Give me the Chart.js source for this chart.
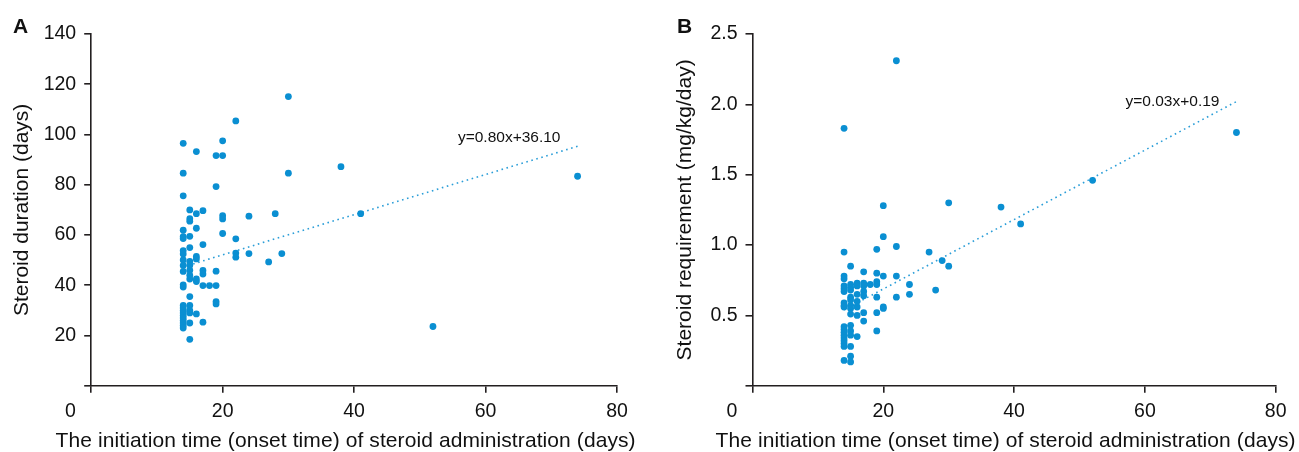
<!DOCTYPE html>
<html>
<head>
<meta charset="utf-8">
<script src="https://cdn.jsdelivr.net/npm/chart.js@4.4.0/dist/chart.umd.min.js"></script>
<style>
html,body{margin:0;padding:0;background:#fff;}
#wrap{position:relative;width:1299px;height:452px;overflow:hidden;background:#fff;}
canvas{position:absolute;top:0;}
#cA{left:0;}
#cB{left:650px;}
</style>
</head>
<body>
<div id="wrap">
<canvas id="cA" width="650" height="452"></canvas>
<canvas id="cB" width="649" height="452"></canvas>
</div>
<script>
// ---------- data ----------
const xTickValues = [0, 20, 40, 60, 80];
const durationTickValues = [0, 20, 40, 60, 80, 100, 120, 140];
const requirementTickValues = [0, 0.5, 1.0, 1.5, 2.0, 2.5];

const xAxisTitle = 'The initiation time (onset time) of steroid administration (days)';
const yTitleA = 'Steroid duration (days)';
const yTitleB = 'Steroid requirement (mg/kg/day)';

// Panel A: onset day vs steroid duration (days)
const onsetA = [
  14,14,14,14,14,14,14,14,14,14,14,14,14,14,14,14,14,14,14,14,14,14,14,
  15,15,15,15,15,15,15,15,15,15,15,15,15,15,15,15,
  16,16,16,16,16,16,16,16,
  17,17,17,17,17,17,
  18,
  19,19,19,19,19,19,
  20,20,20,20,20,
  22,22,22,22,
  24,24,27,28,29,30,30,38,41,52,74
];
const durationA = [
  96.5,84.6,75.6,61.9,59.4,58.6,53.8,52.5,50.1,47.9,45.5,40.2,39.3,32,31,30,29,28,27,26,25,24,23,
  70,66.5,65.5,59.5,55,49.5,48,46,44,42.5,35.5,32,30,29,25,18.5,
  93.2,68.5,62.7,51.5,50.5,42.5,41.5,28.6,
  69.7,56.2,45.9,44.5,39.9,25.3,
  39.9,
  91.6,79.3,45.6,39.9,33.5,32.6,
  97.5,91.6,67.7,66.4,60.6,
  105.4,58.5,52.8,51.2,
  67.5,52.6,49.3,68.5,52.6,115.1,84.6,87.2,68.5,23.6,83.4
];
const trendAX = [14, 74];
const trendAY = [47.3, 95.3];
const equationA = 'y=0.80x+36.10';

// Panel B: onset day vs steroid requirement (mg/kg/day)
const onsetB = [
  14,14,14,14,14,14,14,14,14,14,14,14,14,14,14,14,14,14,14,
  15,15,15,15,15,15,15,15,15,15,15,15,15,15,15,
  16,16,16,16,16,16,16,
  17,17,17,17,17,17,17,
  18,
  19,19,19,19,19,19,19,
  20,20,20,20,20,
  22,22,22,22,
  24,24,27,28,29,30,30,38,41,52,74
];
const requirementB = [
  1.83,0.95,0.78,0.76,0.71,0.69,0.67,0.59,0.57,0.56,0.42,0.40,0.38,0.36,0.34,0.32,0.30,0.28,0.18,
  0.85,0.72,0.70,0.68,0.63,0.61,0.57,0.55,0.51,0.43,0.39,0.36,0.28,0.21,0.17,
  0.73,0.71,0.65,0.60,0.56,0.50,0.35,
  0.81,0.73,0.71,0.67,0.64,0.52,0.46,
  0.72,
  0.97,0.80,0.74,0.72,0.63,0.52,0.39,
  1.28,1.06,0.78,0.56,0.55,
  2.31,0.99,0.78,0.63,
  0.72,0.65,0.95,0.68,0.89,1.30,0.85,1.27,1.15,1.46,1.80
];
const trendBX = [14, 74];
const trendBY = [0.54, 2.02];
const equationB = 'y=0.03x+0.19';

// ---------- styles ----------
const FONT = '"Liberation Sans", Arial, Helvetica, sans-serif';
const DOT = '#0a8fd2';
const TREND = '#2b9ed8';
const AXIS = '#231f20';
const TEXT = '#111111';
const TICK_SIZE = 19.5;
const TITLE_SIZE = 21;
const TICK_PAD = 7;
const X_TITLE_WIDTH = 580;

const textPlugin = {
  id: 'panelText',
  afterDraw(chart, args, opts) {
    const ctx = chart.ctx;
    const xs = chart.scales.x, ys = chart.scales.y;
    const ca = chart.chartArea;
    ctx.save();
    ctx.fillStyle = TEXT;
    // panel letter
    ctx.font = 'bold 21px ' + FONT;
    ctx.textAlign = 'left';
    ctx.textBaseline = 'alphabetic';
    ctx.fillText(opts.letter, opts.letterX, 33);
    // origin "0" label
    ctx.font = TICK_SIZE + 'px ' + FONT;
    ctx.textAlign = 'center';
    ctx.textBaseline = 'middle';
    const lh = TICK_SIZE * 1.2;
    ctx.fillText('0', xs.getPixelForValue(0) - 20.7, xs.top + 7 + TICK_PAD + lh / 2);
    // regression equation
    ctx.font = '15.5px ' + FONT;
    ctx.textAlign = 'right';
    ctx.textBaseline = 'alphabetic';
    ctx.fillText(opts.equation, xs.getPixelForValue(opts.eqX), ys.getPixelForValue(opts.eqY));
    // x axis title (slightly letter-spaced as in the source figure)
    ctx.font = TITLE_SIZE + 'px ' + FONT;
    ctx.textAlign = 'left';
    const natural = ctx.measureText(xAxisTitle).width;
    const n = xAxisTitle.length;
    const ls = (X_TITLE_WIDTH - natural) / (n - 1);
    if ('letterSpacing' in ctx) ctx.letterSpacing = ls.toFixed(2) + 'px';
    const cx = (ca.left + ca.right) / 2 - 8.5;
    const realW = ('letterSpacing' in ctx) ? X_TITLE_WIDTH : natural;
    ctx.fillText(xAxisTitle, cx - realW / 2, 447);
    ctx.restore();
  }
};

function makeChart(id, cfg) {
  const points = cfg.xs.map((x, i) => ({ x: x, y: cfg.ys[i] }));
  const trend = cfg.tx.map((x, i) => ({ x: x, y: cfg.ty[i] }));
  return new Chart(document.getElementById(id), {
    type: 'scatter',
    data: {
      datasets: [
        { data: points, backgroundColor: DOT, borderColor: DOT, borderWidth: 0,
          pointRadius: 3.4, pointHoverRadius: 3.4, order: 1 },
        { type: 'line', data: trend, borderColor: TREND, borderWidth: 1.6,
          borderDash: [1.6, 3.6], pointRadius: 0, fill: false, showLine: true, order: 2 }
      ]
    },
    options: {
      responsive: false,
      animation: false,
      devicePixelRatio: 1,
      events: [],
      layout: { padding: { top: 34, right: cfg.padRight, left: 0, bottom: 0 } },
      plugins: {
        legend: { display: false },
        tooltip: { enabled: false },
        panelText: { letter: cfg.letter, letterX: cfg.letterX, equation: cfg.equation, eqX: cfg.eqX, eqY: cfg.eqY }
      },
      scales: {
        x: {
          type: 'linear', min: 0, max: 80,
          afterBuildTicks: s => { s.ticks = xTickValues.map(v => ({ value: v })); },
          afterFit: s => { s.height = 66.2; },
          grid: { display: true, drawOnChartArea: false, drawTicks: true, tickLength: 7, color: AXIS, lineWidth: 1.6 },
          border: { display: true, color: AXIS, width: 1.6 },
          ticks: { color: TEXT, font: { family: FONT, size: TICK_SIZE }, padding: TICK_PAD, maxRotation: 0, autoSkip: false,
                   callback: v => (v === 0 ? '' : String(v)) },
          title: { display: false, text: xAxisTitle }
        },
        y: {
          type: 'linear', min: cfg.yTicks[0], max: cfg.yTicks[cfg.yTicks.length - 1],
          afterBuildTicks: s => { s.ticks = cfg.yTicks.map(v => ({ value: v })); },
          afterFit: s => { s.width = cfg.yWidth; },
          grid: { display: true, drawOnChartArea: false, drawTicks: true, tickLength: 7, color: AXIS, lineWidth: 1.6 },
          border: { display: true, color: AXIS, width: 1.6 },
          ticks: { color: TEXT, font: { family: FONT, size: TICK_SIZE }, padding: 8, autoSkip: false,
                   callback: cfg.tickFormat },
          title: { display: true, text: cfg.yTitle, color: TEXT, font: { family: FONT, size: TITLE_SIZE }, padding: { top: cfg.yTitlePad, bottom: 0 } }
        }
      }
    },
    plugins: [textPlugin]
  });
}

makeChart('cA', {
  xs: onsetA, ys: durationA, tx: trendAX, ty: trendAY,
  yTicks: durationTickValues, yTitle: yTitleA, yWidth: 91.2, padRight: 33, yTitlePad: 9.4,
  tickFormat: v => (v === 0 ? '' : String(v)),
  letter: 'A', letterX: 13, equation: equationA, eqX: 71.4, eqY: 97
});
makeChart('cB', {
  xs: onsetB, ys: requirementB, tx: trendBX, ty: trendBY,
  yTicks: requirementTickValues, yTitle: yTitleB, yWidth: 102.5, padRight: 23.3, yTitlePad: 22.9,
  tickFormat: v => (v === 0 ? '' : Number(v).toFixed(1)),
  letter: 'B', letterX: 27, equation: equationB, eqX: 71.4, eqY: 1.988
});
</script>
</body>
</html>
